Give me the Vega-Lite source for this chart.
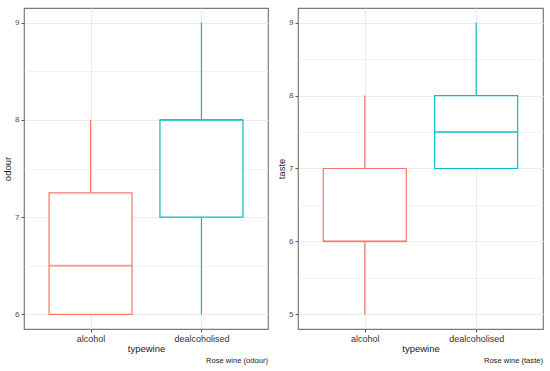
{
  "$schema": "https://vega.github.io/schema/vega-lite/v6.json",
  "padding": {"left": 1, "top": 7, "right": 9, "bottom": 0},
  "spacing": 6,
  "config": {
    "font": "Liberation Sans",
    "view": {"stroke": "#7a7a7a", "strokeWidth": 1.2},
    "axis": {
      "domain": false,
      "labelFontSize": 8,
      "labelColor": "#4d4d4d",
      "titleFontSize": 9.5,
      "titleFontWeight": "normal",
      "titleColor": "#1a1a1a",
      "tickColor": "#555555",
      "tickSize": 3,
      "labelPadding": 2,
      "gridColor": "#ebebeb",
      "gridWidth": 1
    },
    "axisX": {"labelFontSize": 9, "labelColor": "#333333", "titlePadding": 0, "labelAngle": 0},
    "axisY": {"titlePadding": 2},
    "title": {"fontSize": 7.6, "fontWeight": "normal", "color": "#1a1a1a", "orient": "bottom", "anchor": "end", "offset": 4}
  },
  "datasets": {
    "odour": [
      {"typewine": "alcohol", "min": 6, "q1": 6, "median": 6.5, "q3": 7.25, "max": 8},
      {"typewine": "dealcoholised", "min": 6, "q1": 7, "median": 8, "q3": 8, "max": 9}
    ],
    "taste": [
      {"typewine": "alcohol", "min": 5, "q1": 6, "median": 6, "q3": 7, "max": 8},
      {"typewine": "dealcoholised", "min": 7, "q1": 7, "median": 7.5, "q3": 8, "max": 9}
    ]
  },
  "hconcat": [
    {
      "width": 244,
      "height": 321,
      "data": {"name": "odour"},
      "title": {"text": "Rose wine (odour)"},
      "encoding": {
        "x": {"field": "typewine", "type": "nominal", "title": "typewine",
              "scale": {"type": "point", "padding": 0.6, "domain": ["alcohol", "dealcoholised"]},
              "axis": {"grid": true}},
        "color": {"field": "typewine", "type": "nominal", "legend": null,
                  "scale": {"domain": ["alcohol", "dealcoholised"], "range": ["#F8766D", "#00BFC4"]}}
      },
      "layer": [
        {"mark": {"type": "rule", "strokeWidth": 1.2},
         "encoding": {
           "y": {"field": "min", "type": "quantitative", "title": "odour",
                 "scale": {"domain": [5.85, 9.15], "nice": false, "zero": false},
                 "axis": {"values": [6, 6.5, 7, 7.5, 8, 8.5, 9],
                          "labelExpr": "datum.value % 1 == 0 ? format(datum.value, 'd') : ''",
                          "tickOpacity": {"condition": {"test": "datum.value % 1 != 0", "value": 0}, "value": 1},
                          "gridWidth": {"condition": {"test": "datum.value % 1 != 0", "value": 0.6}, "value": 1}}},
           "y2": {"field": "max"}
         }},
        {"mark": {"type": "bar", "fill": "white", "width": 83, "strokeWidth": 1.2},
         "encoding": {
           "y": {"field": "q1", "type": "quantitative"},
           "y2": {"field": "q3"},
           "stroke": {"field": "typewine", "type": "nominal", "legend": null,
                      "scale": {"domain": ["alcohol", "dealcoholised"], "range": ["#F8766D", "#00BFC4"]}}
         }},
        {"mark": {"type": "tick", "size": 83, "thickness": 1.8},
         "encoding": {"y": {"field": "median", "type": "quantitative"}}}
      ]
    },
    {
      "width": 245,
      "height": 321,
      "data": {"name": "taste"},
      "title": {"text": "Rose wine (taste)"},
      "encoding": {
        "x": {"field": "typewine", "type": "nominal", "title": "typewine",
              "scale": {"type": "point", "padding": 0.6, "domain": ["alcohol", "dealcoholised"]},
              "axis": {"grid": true}},
        "color": {"field": "typewine", "type": "nominal", "legend": null,
                  "scale": {"domain": ["alcohol", "dealcoholised"], "range": ["#F8766D", "#00BFC4"]}}
      },
      "layer": [
        {"mark": {"type": "rule", "strokeWidth": 1.2},
         "encoding": {
           "y": {"field": "min", "type": "quantitative", "title": "taste",
                 "scale": {"domain": [4.8, 9.2], "nice": false, "zero": false},
                 "axis": {"values": [5, 5.5, 6, 6.5, 7, 7.5, 8, 8.5, 9],
                          "labelExpr": "datum.value % 1 == 0 ? format(datum.value, 'd') : ''",
                          "tickOpacity": {"condition": {"test": "datum.value % 1 != 0", "value": 0}, "value": 1},
                          "gridWidth": {"condition": {"test": "datum.value % 1 != 0", "value": 0.6}, "value": 1}}},
           "y2": {"field": "max"}
         }},
        {"mark": {"type": "bar", "fill": "white", "width": 83, "strokeWidth": 1.2},
         "encoding": {
           "y": {"field": "q1", "type": "quantitative"},
           "y2": {"field": "q3"},
           "stroke": {"field": "typewine", "type": "nominal", "legend": null,
                      "scale": {"domain": ["alcohol", "dealcoholised"], "range": ["#F8766D", "#00BFC4"]}}
         }},
        {"mark": {"type": "tick", "size": 83, "thickness": 1.8},
         "encoding": {"y": {"field": "median", "type": "quantitative"}}}
      ]
    }
  ]
}
